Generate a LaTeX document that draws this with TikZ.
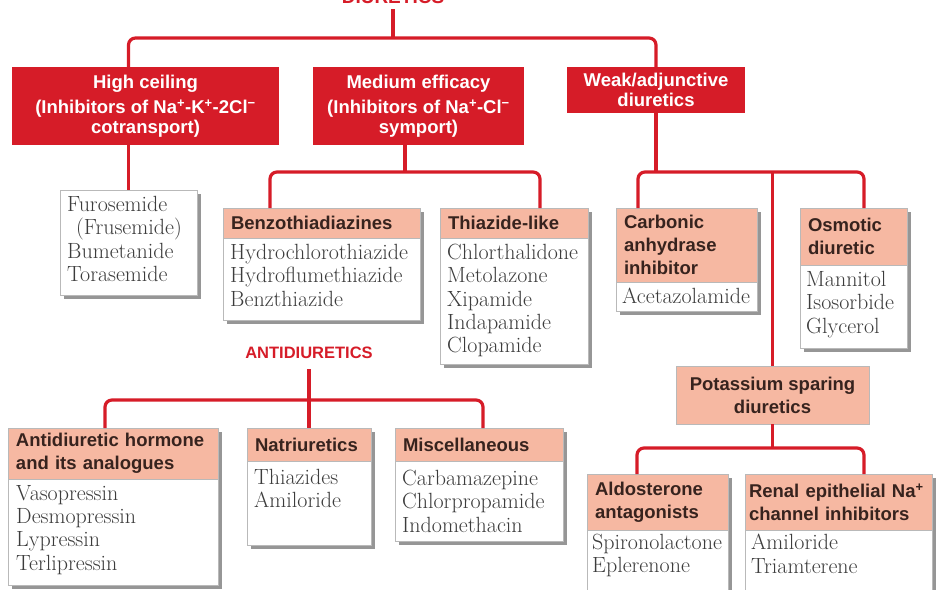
\documentclass[tikz,border=0pt]{standalone}
\usepackage{fontspec}
\newfontfamily\hsans{Liberation Sans}
\usetikzlibrary{shadows}
\definecolor{dred}{RGB}{214,28,40}
\definecolor{salmon}{RGB}{246,184,162}
\definecolor{bodytxt}{RGB}{60,60,60}
\definecolor{hdrtxt}{RGB}{55,35,30}
\definecolor{edgegray}{RGB}{185,185,185}
\definecolor{shadgray}{RGB}{150,150,150}
\newcommand\redfont{\hsans\bfseries\fontsize{18.5}{20}\selectfont}
\newcommand\hdrfont{\hsans\bfseries\fontsize{18.5}{23}\selectfont}
\newcommand\bodyfont{\fontsize{22}{23.3}\selectfont}
\begin{document}
\begin{tikzpicture}[x=1pt,y=-1pt,
 link/.style={draw=dred, line width=3.2pt, rounded corners=7pt},
 redbox/.style={fill=dred, text=white, font=\redfont, align=center, anchor=north west, inner sep=0pt, outer sep=0pt},
 shad/.style={general shadow={fill=shadgray, shadow xshift=3.5pt, shadow yshift=-3.5pt}},
 hdrbox/.style={fill=salmon, draw=edgegray, line width=0.8pt, text=hdrtxt, font=\hdrfont, align=left, anchor=north west, inner xsep=8pt, inner ysep=0pt, outer sep=0pt, shad},
 psbox/.style={fill=salmon, draw=edgegray, line width=0.8pt, text=hdrtxt, font=\hdrfont, align=center, anchor=north west, inner sep=0pt, outer sep=0pt},
 bodybox/.style={fill=white, draw=edgegray, line width=0.8pt, anchor=north west, inner sep=0pt, outer sep=0pt, shad},
 bodytext/.style={anchor=north west, inner sep=0pt, align=left, font=\bodyfont, text=bodytxt},
 titletext/.style={text=dred, font=\hsans\bfseries\fontsize{17}{20}\selectfont, inner sep=0pt}
]
\useasboundingbox (0,0) rectangle (936,589);

% title (cut at top edge, as in the reference)
\node[titletext, anchor=base, font=\hsans\bfseries\fontsize{19}{20}\selectfont] (dt) at (393,4) {DIURETICS};

% red category boxes
\node[redbox, minimum width=267pt, minimum height=78pt] (hc) at (12,67) {High ceiling\\[5pt](Inhibitors of Na\textsuperscript{+}-K\textsuperscript{+}-2Cl\textsuperscript{−}\\cotransport)};
\node[redbox, minimum width=211pt, minimum height=78pt] (me) at (313,67) {Medium efficacy\\[5pt](Inhibitors of Na\textsuperscript{+}-Cl\textsuperscript{−}\\symport)};
\node[redbox, minimum width=178pt, minimum height=46pt] (wk) at (567,67) {Weak/adjunctive\\diuretics};

% Furosemide
\node[bodybox, minimum width=137pt, minimum height=105pt] (fb) at (60,190) {};
\node[bodytext] (fbt) at (67,196) {Furosemide\\\hspace{9pt}(Frusemide)\\Bumetanide\\Torasemide};

% Benzothiadiazines
\node[hdrbox, text width=181pt, minimum height=30pt] (bzh) at (223,208) {Benzothiadiazines};
\node[bodybox, minimum width=197pt, minimum height=82pt] (bzb) at (223,238) {};
\node[bodytext] (bzt) at (230,244) {Hydrochlorothiazide\\Hydroflumethiazide\\Benzthiazide};

% Thiazide-like
\node[hdrbox, text width=132pt, minimum height=30pt] (thh) at (440,208) {Thiazide-like};
\node[bodybox, minimum width=148pt, minimum height=126pt] (thb) at (440,238) {};
\node[bodytext] (tht) at (447,244) {Chlorthalidone\\Metolazone\\Xipamide\\Indapamide\\Clopamide};

% Carbonic anhydrase inhibitor
\node[hdrbox, text width=125pt, minimum height=74pt] (cah) at (616,208) {Carbonic\\anhydrase\\inhibitor};
\node[bodybox, minimum width=141pt, minimum height=29pt] (cab) at (616,282) {};
\node[bodytext] (cat) at (622,288) {Acetazolamide};

% Osmotic diuretic
\node[hdrbox, text width=91pt, minimum height=57pt] (osh) at (800,208) {Osmotic\\diuretic};
\node[bodybox, minimum width=107pt, minimum height=83pt] (osb) at (800,265) {};
\node[bodytext] (ost) at (806,271) {Mannitol\\Isosorbide\\Glycerol};

% Potassium sparing
\node[psbox, minimum width=193pt, minimum height=58pt] (ps) at (676,366) {Potassium sparing\\diuretics};

% Aldosterone antagonists
\node[hdrbox, text width=125pt, minimum height=56pt] (alh) at (587,474) {Aldosterone\\antagonists};
\node[bodybox, minimum width=141pt, minimum height=60pt] (alb) at (587,530) {};
\node[bodytext] (alt) at (592,534) {Spironolactone\\Eplerenone};

% Renal epithelial
\node[hdrbox, inner xsep=4pt, text width=179pt, minimum height=56pt] (rnh) at (745,474) {Renal epithelial Na\textsuperscript{+}\\channel inhibitors};
\node[bodybox, minimum width=187pt, minimum height=60pt] (rnb) at (745,530) {};
\node[bodytext] (rnt) at (751,534) {Amiloride\\Triamterene};

% Antidiuretics title
\node[titletext, font=\hsans\bfseries\fontsize{16.5}{20}\selectfont] (ad) at (309,353) {ANTIDIURETICS};

% ADH
\node[hdrbox, text width=194pt, minimum height=51pt] (adh) at (8,428) {Antidiuretic hormone\\and its analogues};
\node[bodybox, minimum width=210pt, minimum height=106pt] (adb) at (8,479) {};
\node[bodytext] (adt) at (16,485) {Vasopressin\\Desmopressin\\Lypressin\\Terlipressin};

% Natriuretics
\node[hdrbox, text width=108pt, minimum height=33pt] (nah) at (247,428) {Natriuretics};
\node[bodybox, minimum width=124pt, minimum height=84pt] (nab) at (247,461) {};
\node[bodytext] (nat) at (254,469) {Thiazides\\Amiloride};

% Miscellaneous
\node[hdrbox, text width=152pt, minimum height=33pt] (msh) at (395,428) {Miscellaneous};
\node[bodybox, minimum width=168pt, minimum height=80pt] (msb) at (395,461) {};
\node[bodytext] (mst) at (402,470) {Carbamazepine\\Chlorpropamide\\Indomethacin};

% connectors
\coordinate (j0) at (393,38);
\draw[link] ([yshift=-5pt]dt.south) -- (j0);
\draw[link] (hc.north -| fb.north) -- (fb.north |- j0) -- (wk.south |- j0) -- (wk.north);
\draw[link] (fb.north |- hc.south) -- (fb.north);

\coordinate (m0) at (405,172);
\coordinate (b1) at (270,172);
\coordinate (b2) at (540,172);
\draw[link] (m0 |- me.south) -- (m0);
\draw[link] (bzh.north -| b1) -- (b1) -- (b2) -- (thh.north -| b2);

\coordinate (c1) at (638,172);
\coordinate (c2) at (864,172);
\draw[link] (wk.south) -- (wk.south |- c1);
\draw[link] (cah.north -| c1) -- (c1) -- (c2) -- (osh.north -| c2);
\draw[link] (ps.north |- c1) -- (ps.north);

\coordinate (p1) at (637,448);
\coordinate (p2) at (864,448);
\draw[link] (ps.south) -- (ps.south |- p1);
\draw[link] (alh.north -| p1) -- (p1) -- (p2) -- (rnh.north -| p2);

\coordinate (a1) at (105,400);
\coordinate (a2) at (483,400);
\draw[link] ([yshift=-10pt]ad.south) -- (nah.north);
\draw[link] (adh.north -| a1) -- (a1) -- (a2) -- (msh.north -| a2);
\end{tikzpicture}
\end{document}
